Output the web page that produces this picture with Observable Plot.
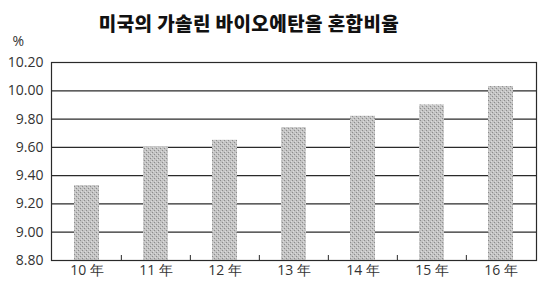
<!DOCTYPE html>
<html>
<head>
<meta charset="utf-8">
<script src="https://cdn.jsdelivr.net/npm/d3@7"></script>
<script src="https://cdn.jsdelivr.net/npm/@observablehq/plot@0.6"></script>
<style>
  body { margin: 0; background: #fff; width: 548px; height: 302px; overflow: hidden; }
  #title { height: 36px; width: 548px; position: relative; }
  #title span { position: absolute; left: 0; width: 498px; top: 13px; text-align: center;
    font-family: "Noto Sans CJK KR", sans-serif; font-weight: 900; font-size: 19px; letter-spacing: 0.4px; color: #111; line-height: 1; }
</style>
</head>
<body>
<div id="title"><span>미국의 가솔린 바이오에탄올 혼합비율</span></div>
<div id="chart"></div>
<script>
const years = ["10 年", "11 年", "12 年", "13 年", "14 年", "15 年", "16 年"];
const blendRates = [9.33, 9.60, 9.65, 9.74, 9.82, 9.90, 10.03];
const yTicks = [8.8, 9.0, 9.2, 9.4, 9.6, 9.8, 10.0, 10.2];
const unitLabel = ["%"];

const data = years.map((y, i) => ({year: y, value: blendRates[i]}));

const W = 548, H = 266, ML = 51, MR = 12, MT = 26, MB = 42;
const step = (W - ML - MR) / years.length;
const tickLen = 5 * (yTicks[yTicks.length - 1] - yTicks[0]) / (H - MT - MB);

const plot = Plot.plot({
  width: W,
  height: H,
  marginLeft: ML,
  marginRight: MR,
  marginTop: MT,
  marginBottom: MB,
  style: {fontFamily: "'Open Sans', sans-serif", fontSize: "14px", color: "#333", overflow: "visible"},
  x: {domain: years, paddingInner: 0.64, paddingOuter: 0.32, label: null, tickSize: 0, tickPadding: 5},
  y: {domain: [8.8, 10.2], ticks: yTicks, tickFormat: d => d.toFixed(2), label: null, tickSize: 0, tickPadding: 8},
  marks: [
    Plot.ruleY(yTicks, {stroke: "#2a2a2a", strokeWidth: 1.2}),
    Plot.barY(data, {x: "year", y1: 8.8, y2: "value", fill: "url(#stip)"}),
    Plot.ruleX(years.slice(1), {x: d => d, dx: -step / 2, y1: 8.8, y2: 8.8 + tickLen, stroke: "#2a2a2a"}),
    Plot.frame({stroke: "#2a2a2a", strokeWidth: 1.2}),
    Plot.text(unitLabel, {text: d => d, frameAnchor: "top-left", dx: -39, dy: -26, fontSize: 14, fill: "#333"})
  ]
});

// stipple pattern for bars
const ns = "http://www.w3.org/2000/svg";
const defs = document.createElementNS(ns, "defs");
defs.innerHTML = `<pattern id="stip" width="4" height="4" patternUnits="userSpaceOnUse">
  <rect width="4" height="4" fill="#c4c4c4"/>
  <rect x="0" y="0" width="1" height="1" fill="#8c8c8c"/>
  <rect x="2" y="2" width="1" height="1" fill="#8c8c8c"/>
  <rect x="1" y="3" width="1" height="1" fill="#dcdcdc"/>
  <rect x="3" y="1" width="1" height="1" fill="#dcdcdc"/>
</pattern>`;
plot.insertBefore(defs, plot.firstChild);

document.getElementById("chart").appendChild(plot);
</script>
</body>
</html>
